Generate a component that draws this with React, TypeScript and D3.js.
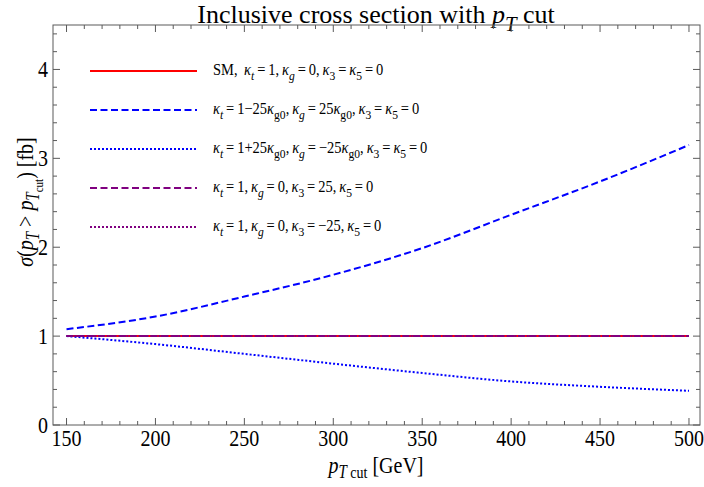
import { useMemo } from "react";
import * as d3 from "d3";

// values (pT cut in GeV, cross section in fb)
const ptCut = [150, 200, 250, 300, 350, 400, 450, 500];
const smValues = [1.0, 1.0, 1.0, 1.0, 1.0, 1.0, 1.0, 1.0];
const kgPlusValues = [1.078, 1.22, 1.445, 1.69, 1.99, 2.365, 2.74, 3.15];
const kgMinusValues = [1.0, 0.91, 0.8, 0.69, 0.585, 0.49, 0.43, 0.385];
const k3PlusValues = [1.0, 1.0, 1.0, 1.0, 1.0, 1.0, 1.0, 1.0];
const k3MinusValues = [1.0, 1.0, 1.0, 1.0, 1.0, 1.0, 1.0, 1.0];

const xTicks = [150, 200, 250, 300, 350, 400, 450, 500];
const yTicks = [0, 1, 2, 3, 4];

const legendLabels = [
  "SM, κ_{t}=1,κ_{g}=0,κ_{3}=κ_{5}=0",
  "κ_{t}=1−25κ_{g0},κ_{g}=25κ_{g0},κ_{3}=κ_{5}=0",
  "κ_{t}=1+25κ_{g0},κ_{g}=−25κ_{g0},κ_{3}=κ_{5}=0",
  "κ_{t}=1,κ_{g}=0,κ_{3}=25,κ_{5}=0",
  "κ_{t}=1,κ_{g}=0,κ_{3}=−25,κ_{5}=0",
];

const series = [
  { values: smValues, color: "#ff0000", dash: "none" },
  { values: kgPlusValues, color: "#0000ff", dash: "7 3.5" },
  { values: kgMinusValues, color: "#0000ff", dash: "2 2" },
  { values: k3PlusValues, color: "#800080", dash: "7 3.5" },
  { values: k3MinusValues, color: "#800080", dash: "2 2" },
];

const W = 704;
const H = 487;
const margin = { top: 25, right: 4, bottom: 62, left: 53 };
const FONT = "'Liberation Serif', 'DejaVu Serif', serif";
const SY = 1.2; // reference glyphs look a bit taller than wide

// tiny markup: "_{..}" is a subscript, κ and single-letter t / g are italic
function Rich({ s, size, math = false }: { s: string; size: number; math?: boolean }) {
  const parts: JSX.Element[] = [];
  const re = /_\{([^}]*)\}|[^_]+/g;
  let m: RegExpExecArray | null;
  let k = 0;
  let shifted = false;
  const sub = size * 0.32;
  const thin = "\u2009";
  while ((m = re.exec(s))) {
    if (m[1] !== undefined) {
      const it = m[1] === "t" || m[1] === "g" || m[1] === "T";
      parts.push(
        <tspan key={k++} dy={shifted ? 0 : sub} fontSize={size * 0.8} fontStyle={it ? "italic" : "normal"}>
          {m[1]}
        </tspan>
      );
      shifted = true;
    } else {
      let txt = m[0];
      if (math) {
        txt = txt.replace(/=/g, thin + "=" + thin).replace(/,/g, "," + thin);
      }
      const chunks = txt.split(/(κ|σ|p)/).filter((c) => c.length);
      chunks.forEach((c) => {
        const it = c === "κ" || c === "σ" || c === "p";
        parts.push(
          <tspan key={k++} dy={shifted ? -sub : 0} fontStyle={it ? "italic" : "normal"}>
            {c}
          </tspan>
        );
        shifted = false;
      });
    }
  }
  return <>{parts}</>;
}

export default function App() {
  const x = useMemo(
    () => d3.scaleLinear().domain([142.4, 506.2]).range([margin.left, W - margin.right]),
    []
  );
  const y = useMemo(
    () => d3.scaleLinear().domain([0, 4.5]).range([H - margin.bottom, margin.top]),
    []
  );

  const line = d3
    .line<number>()
    .x((_, i) => x(ptCut[i]))
    .y((d) => y(d))
    .curve(d3.curveMonotoneX);

  const xMinor = d3.range(150, 506, 10).filter((v) => v % 50 !== 0);
  const yMinor = d3.range(0.2, 4.5, 0.2).filter((v) => Math.abs(v - Math.round(v)) > 0.01);

  const x0 = margin.left;
  const x1 = W - margin.right;
  const y0 = H - margin.bottom;
  const y1 = margin.top;
  const frame = "#5a5a5a";

  return (
    <svg
      width={W}
      height={H}
      style={{ position: "absolute", left: 0, top: 0, background: "#fff" }}
      fontFamily={FONT}
    >
      {/* title */}
      <text transform={`translate(376,23)`} textAnchor="middle" fontSize={26} fill="#000">
        <Rich s="Inclusive cross section with p_{T} cut" size={26} />
      </text>

      {/* curves */}
      <defs>
        <clipPath id="clip">
          <rect x={x0} y={y1} width={x1 - x0} height={y0 - y1} />
        </clipPath>
      </defs>
      <g clipPath="url(#clip)">
        {series.map((s, i) => (
          <path
            key={i}
            d={line(s.values) || ""}
            fill="none"
            stroke={s.color}
            strokeWidth={2}
            strokeDasharray={s.dash}
          />
        ))}
      </g>

      {/* frame & ticks */}
      <rect x={x0} y={y1} width={x1 - x0} height={y0 - y1} fill="none" stroke={frame} strokeWidth={1} />
      {xTicks.map((v) => (
        <g key={"xt" + v} stroke={frame}>
          <line x1={x(v)} x2={x(v)} y1={y0} y2={y0 - 7} />
          <line x1={x(v)} x2={x(v)} y1={y1} y2={y1 + 7} />
        </g>
      ))}
      {xMinor.map((v) => (
        <g key={"xm" + v} stroke={frame}>
          <line x1={x(v)} x2={x(v)} y1={y0} y2={y0 - 4} />
          <line x1={x(v)} x2={x(v)} y1={y1} y2={y1 + 4} />
        </g>
      ))}
      {yTicks.map((v) => (
        <g key={"yt" + v} stroke={frame}>
          <line x1={x0} x2={x0 + 7} y1={y(v)} y2={y(v)} />
          <line x1={x1} x2={x1 - 7} y1={y(v)} y2={y(v)} />
        </g>
      ))}
      {yMinor.map((v) => (
        <g key={"ym" + v.toFixed(1)} stroke={frame}>
          <line x1={x0} x2={x0 + 4} y1={y(v)} y2={y(v)} />
          <line x1={x1} x2={x1 - 4} y1={y(v)} y2={y(v)} />
        </g>
      ))}

      {/* tick labels */}
      {xTicks.map((v) => (
        <text
          key={"xl" + v}
          transform={`translate(${x(v)},${y0 + 21}) scale(1,${SY})`}
          textAnchor="middle"
          fontSize={20}
          fill="#000"
        >
          {v}
        </text>
      ))}
      {yTicks.map((v) => (
        <text
          key={"yl" + v}
          transform={`translate(${x0 - 5},${y(v) + 8}) scale(1,${SY})`}
          textAnchor="end"
          fontSize={20}
          fill="#000"
        >
          {v}
        </text>
      ))}

      {/* axis labels */}
      <text transform={`translate(376,473) scale(1,${SY})`} textAnchor="middle" fontSize={20} fill="#000">
        <tspan fontStyle="italic">p</tspan>
        <tspan dy={4} fontSize={15} fontStyle="italic">T</tspan>
        <tspan fontSize={14}> cut</tspan>
        <tspan dy={-4}> [GeV]</tspan>
      </text>
      <text transform={`translate(33,202) rotate(-90) scale(1,${SY})`} textAnchor="middle" fontSize={20} fill="#000">
        <tspan fontStyle="italic">σ</tspan>
        <tspan>(</tspan>
        <tspan fontStyle="italic">p</tspan>
        <tspan dy={5} fontSize={15} fontStyle="italic">T</tspan>
        <tspan dy={-5}>{" > "}</tspan>
        <tspan fontStyle="italic">p</tspan>
        <tspan dy={5} fontSize={15} fontStyle="italic">T</tspan>
        <tspan dy={3} fontSize={11}>cut</tspan>
        <tspan dy={-8}>) [fb]</tspan>
      </text>

      {/* legend */}
      {legendLabels.map((lab, i) => {
        const ly = 71 + i * 39;
        const s = series[i];
        return (
          <g key={"lg" + i}>
            <line x1={90} x2={197} y1={ly} y2={ly} stroke={s.color} strokeWidth={2} strokeDasharray={s.dash} />
            <text transform={`translate(213,${ly + 4}) scale(1,1.1)`} fontSize={14.5} fill="#000">
              <Rich s={lab} size={14.5} math />
            </text>
          </g>
        );
      })}
    </svg>
  );
}
